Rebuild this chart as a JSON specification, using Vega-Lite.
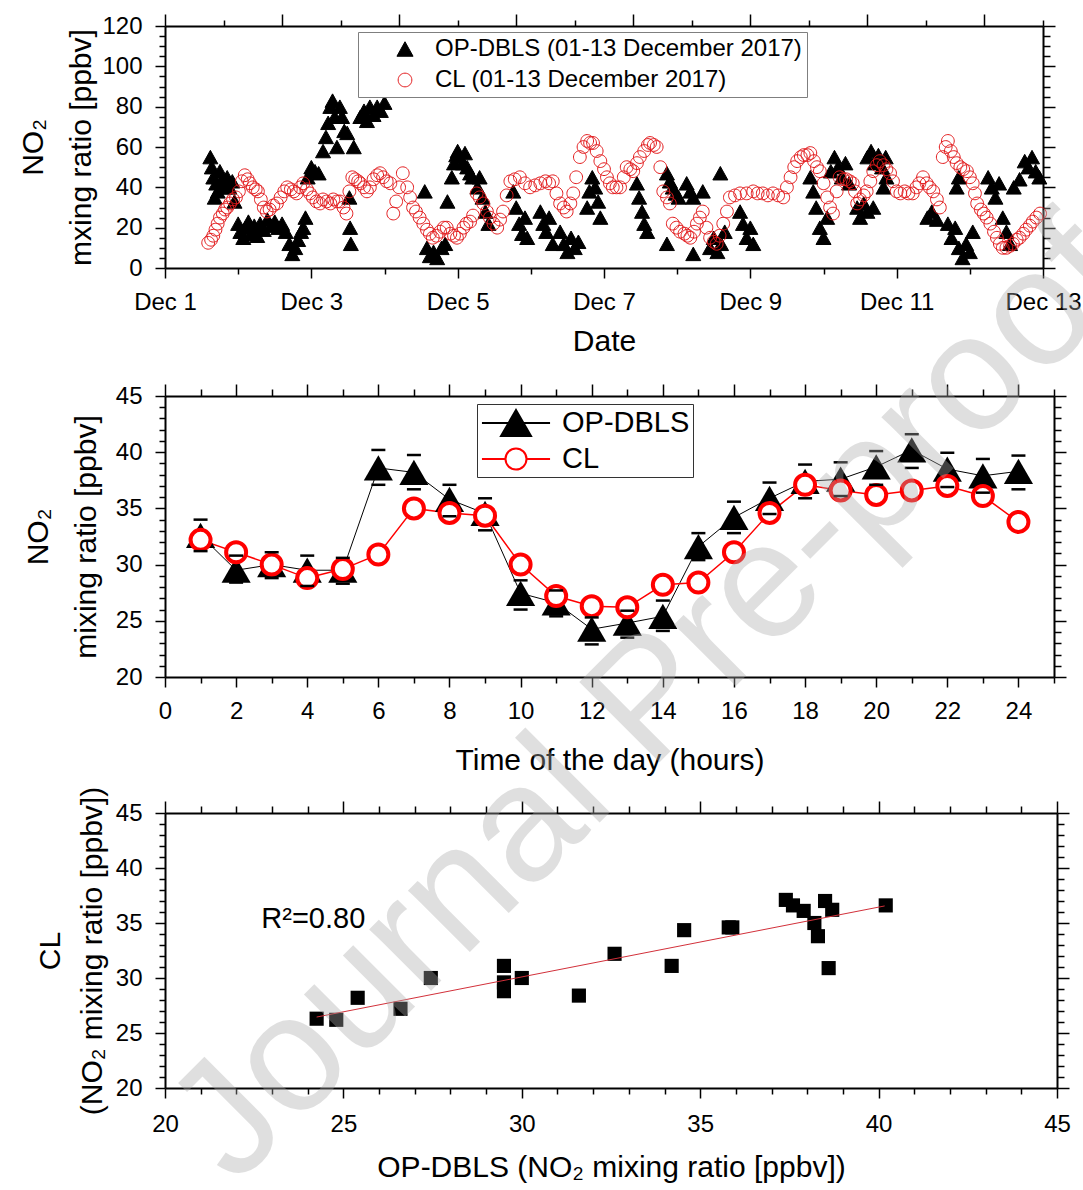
{
  "$schema": "https://vega.github.io/schema/vega-lite/v6.json",
  "padding": {"left": 18, "top": 13, "right": 10, "bottom": 5},
  "config": {
    "font": "Liberation Sans",
    "view": {"stroke": null},
    "axis": {"domainColor": "black", "domainWidth": 2, "tickColor": "black", "tickWidth": 1.5, "labelColor": "black", "labelFontSize": 24, "titleFontSize": 30, "titleFontWeight": "normal", "titleColor": "black", "grid": false, "labelOverlap": false, "labelFlush": false},
    "legend": {"titleFontSize": 0, "labelLimit": 0}
  },
  "datasets": {
    "ts": [
      {"s":"OP","d":1.62,"v":55},{"s":"OP","d":1.64,"v":50},{"s":"OP","d":1.66,"v":45},{"s":"OP","d":1.68,"v":35},{"s":"OP","d":1.70,"v":42},{"s":"OP","d":1.72,"v":38},{"s":"OP","d":1.75,"v":48},{"s":"OP","d":1.78,"v":44},{"s":"OP","d":1.82,"v":40},{"s":"OP","d":1.85,"v":45},{"s":"OP","d":1.88,"v":40},{"s":"OP","d":1.92,"v":43},{"s":"OP","d":1.95,"v":33},
      {"s":"OP","d":2.00,"v":22},{"s":"OP","d":2.03,"v":18},{"s":"OP","d":2.07,"v":15},{"s":"OP","d":2.10,"v":20},{"s":"OP","d":2.14,"v":23},{"s":"OP","d":2.18,"v":17},{"s":"OP","d":2.22,"v":21},{"s":"OP","d":2.26,"v":16},
      {"s":"OP","d":2.30,"v":22},{"s":"OP","d":2.35,"v":19},{"s":"OP","d":2.40,"v":24},{"s":"OP","d":2.45,"v":21},{"s":"OP","d":2.50,"v":23},{"s":"OP","d":2.55,"v":20},{"s":"OP","d":2.60,"v":22},{"s":"OP","d":2.65,"v":18},
      {"s":"OP","d":2.70,"v":12},{"s":"OP","d":2.74,"v":7},{"s":"OP","d":2.78,"v":10},{"s":"OP","d":2.82,"v":14},{"s":"OP","d":2.86,"v":18},{"s":"OP","d":2.89,"v":20},{"s":"OP","d":2.92,"v":25},
      {"s":"OP","d":2.95,"v":45},{"s":"OP","d":3.00,"v":50},{"s":"OP","d":3.05,"v":48},{"s":"OP","d":3.10,"v":47},
      {"s":"OP","d":3.16,"v":58},{"s":"OP","d":3.20,"v":65},{"s":"OP","d":3.23,"v":72},{"s":"OP","d":3.26,"v":80},{"s":"OP","d":3.29,"v":83},{"s":"OP","d":3.32,"v":75},{"s":"OP","d":3.35,"v":60},
      {"s":"OP","d":3.39,"v":80},{"s":"OP","d":3.42,"v":75},{"s":"OP","d":3.45,"v":68},{"s":"OP","d":3.49,"v":67},{"s":"OP","d":3.52,"v":35},{"s":"OP","d":3.53,"v":20},{"s":"OP","d":3.54,"v":12},{"s":"OP","d":3.58,"v":60},
      {"s":"OP","d":3.67,"v":75},{"s":"OP","d":3.72,"v":78},{"s":"OP","d":3.76,"v":73},{"s":"OP","d":3.80,"v":80},{"s":"OP","d":3.85,"v":76},{"s":"OP","d":3.90,"v":80},{"s":"OP","d":3.95,"v":78},{"s":"OP","d":4.00,"v":82},
      {"s":"OP","d":4.55,"v":38},
      {"s":"OP","d":4.58,"v":10},{"s":"OP","d":4.62,"v":6},{"s":"OP","d":4.67,"v":8},{"s":"OP","d":4.72,"v":5},{"s":"OP","d":4.78,"v":10},{"s":"OP","d":4.83,"v":12},{"s":"OP","d":4.86,"v":33},
      {"s":"OP","d":4.92,"v":45},{"s":"OP","d":4.95,"v":52},{"s":"OP","d":4.98,"v":56},{"s":"OP","d":5.00,"v":58},{"s":"OP","d":5.03,"v":55},{"s":"OP","d":5.07,"v":52},{"s":"OP","d":5.10,"v":57},{"s":"OP","d":5.13,"v":50},{"s":"OP","d":5.17,"v":47},{"s":"OP","d":5.20,"v":45},
      {"s":"OP","d":5.27,"v":40},{"s":"OP","d":5.30,"v":45},{"s":"OP","d":5.34,"v":35},{"s":"OP","d":5.38,"v":28},{"s":"OP","d":5.42,"v":22},
      {"s":"OP","d":5.76,"v":38},{"s":"OP","d":5.80,"v":30},{"s":"OP","d":5.84,"v":22},{"s":"OP","d":5.88,"v":17},{"s":"OP","d":5.92,"v":25},{"s":"OP","d":5.95,"v":15},
      {"s":"OP","d":6.13,"v":28},{"s":"OP","d":6.17,"v":22},{"s":"OP","d":6.21,"v":18},{"s":"OP","d":6.25,"v":25},{"s":"OP","d":6.30,"v":12},
      {"s":"OP","d":6.40,"v":18},{"s":"OP","d":6.45,"v":12},{"s":"OP","d":6.50,"v":8},{"s":"OP","d":6.55,"v":15},{"s":"OP","d":6.60,"v":10},{"s":"OP","d":6.65,"v":13},
      {"s":"OP","d":6.77,"v":30},{"s":"OP","d":6.80,"v":38},{"s":"OP","d":6.84,"v":45},{"s":"OP","d":6.88,"v":40},{"s":"OP","d":6.92,"v":33},{"s":"OP","d":6.95,"v":25},
      {"s":"OP","d":7.45,"v":42},{"s":"OP","d":7.48,"v":35},{"s":"OP","d":7.52,"v":28},{"s":"OP","d":7.55,"v":22},{"s":"OP","d":7.59,"v":18},
      {"s":"OP","d":7.86,"v":47},{"s":"OP","d":7.90,"v":43},{"s":"OP","d":7.94,"v":40},{"s":"OP","d":7.98,"v":37},{"s":"OP","d":8.02,"v":35},{"s":"OP","d":7.86,"v":12},
      {"s":"OP","d":8.13,"v":42},{"s":"OP","d":8.18,"v":38},{"s":"OP","d":8.22,"v":35},{"s":"OP","d":8.22,"v":7},{"s":"OP","d":8.35,"v":38},
      {"s":"OP","d":8.45,"v":10},{"s":"OP","d":8.50,"v":15},{"s":"OP","d":8.55,"v":8},{"s":"OP","d":8.60,"v":12},{"s":"OP","d":8.65,"v":18},{"s":"OP","d":8.59,"v":47},
      {"s":"OP","d":8.86,"v":28},{"s":"OP","d":8.90,"v":22},{"s":"OP","d":8.95,"v":15},{"s":"OP","d":9.00,"v":20},{"s":"OP","d":9.04,"v":12},
      {"s":"OP","d":9.82,"v":45},{"s":"OP","d":9.86,"v":38},{"s":"OP","d":9.90,"v":30},{"s":"OP","d":9.95,"v":20},{"s":"OP","d":10.00,"v":15},{"s":"OP","d":10.05,"v":25},
      {"s":"OP","d":10.10,"v":48},{"s":"OP","d":10.15,"v":55},{"s":"OP","d":10.20,"v":50},{"s":"OP","d":10.25,"v":45},{"s":"OP","d":10.30,"v":52},{"s":"OP","d":10.35,"v":42},
      {"s":"OP","d":10.46,"v":30},{"s":"OP","d":10.50,"v":25},{"s":"OP","d":10.55,"v":32},{"s":"OP","d":10.60,"v":28},{"s":"OP","d":10.68,"v":30},
      {"s":"OP","d":10.60,"v":55},{"s":"OP","d":10.65,"v":58},{"s":"OP","d":10.70,"v":52},{"s":"OP","d":10.75,"v":56},{"s":"OP","d":10.80,"v":50},{"s":"OP","d":10.85,"v":55},{"s":"OP","d":10.82,"v":40},{"s":"OP","d":10.86,"v":45},
      {"s":"OP","d":11.42,"v":25},{"s":"OP","d":11.48,"v":28},{"s":"OP","d":11.55,"v":24},
      {"s":"OP","d":11.70,"v":22},{"s":"OP","d":11.75,"v":15},{"s":"OP","d":11.80,"v":20},{"s":"OP","d":11.85,"v":10},{"s":"OP","d":11.90,"v":5},{"s":"OP","d":11.95,"v":12},{"s":"OP","d":12.00,"v":8},{"s":"OP","d":12.04,"v":18},{"s":"OP","d":11.82,"v":40},{"s":"OP","d":11.85,"v":45},
      {"s":"OP","d":12.25,"v":45},{"s":"OP","d":12.30,"v":40},{"s":"OP","d":12.35,"v":35},{"s":"OP","d":12.40,"v":42},
      {"s":"OP","d":12.45,"v":25},{"s":"OP","d":12.50,"v":18},{"s":"OP","d":12.55,"v":12},{"s":"OP","d":12.60,"v":40},{"s":"OP","d":12.68,"v":44},
      {"s":"OP","d":12.75,"v":53},{"s":"OP","d":12.80,"v":50},{"s":"OP","d":12.85,"v":55},{"s":"OP","d":12.90,"v":48},{"s":"OP","d":12.95,"v":45},
      {"s":"CL","d":1.59,"v":12.5},{"s":"CL","d":1.63,"v":14},{"s":"CL","d":1.66,"v":16},{"s":"CL","d":1.69,"v":19},{"s":"CL","d":1.72,"v":22},{"s":"CL","d":1.75,"v":25},{"s":"CL","d":1.79,"v":27},{"s":"CL","d":1.82,"v":29},{"s":"CL","d":1.85,"v":30},{"s":"CL","d":1.89,"v":32},{"s":"CL","d":1.93,"v":34},{"s":"CL","d":1.97,"v":35},
      {"s":"CL","d":2.01,"v":38},{"s":"CL","d":2.05,"v":43},{"s":"CL","d":2.09,"v":46},{"s":"CL","d":2.13,"v":44},{"s":"CL","d":2.16,"v":42},{"s":"CL","d":2.20,"v":40},{"s":"CL","d":2.24,"v":39},{"s":"CL","d":2.27,"v":38},{"s":"CL","d":2.31,"v":34},{"s":"CL","d":2.35,"v":30},{"s":"CL","d":2.39,"v":28},{"s":"CL","d":2.43,"v":29},{"s":"CL","d":2.48,"v":31},
      {"s":"CL","d":2.53,"v":32},{"s":"CL","d":2.58,"v":35},{"s":"CL","d":2.63,"v":38},{"s":"CL","d":2.67,"v":40},{"s":"CL","d":2.72,"v":39},{"s":"CL","d":2.76,"v":38},{"s":"CL","d":2.80,"v":37},{"s":"CL","d":2.85,"v":40},{"s":"CL","d":2.89,"v":42},{"s":"CL","d":2.94,"v":39},{"s":"CL","d":2.98,"v":37},
      {"s":"CL","d":3.02,"v":35},{"s":"CL","d":3.07,"v":33},{"s":"CL","d":3.12,"v":32},{"s":"CL","d":3.16,"v":34},{"s":"CL","d":3.21,"v":33},{"s":"CL","d":3.26,"v":32},{"s":"CL","d":3.30,"v":34},{"s":"CL","d":3.35,"v":33},{"s":"CL","d":3.39,"v":33},{"s":"CL","d":3.44,"v":30},{"s":"CL","d":3.48,"v":27},
      {"s":"CL","d":3.52,"v":38},{"s":"CL","d":3.56,"v":45},{"s":"CL","d":3.60,"v":44},{"s":"CL","d":3.64,"v":43},{"s":"CL","d":3.67,"v":42},{"s":"CL","d":3.72,"v":40},{"s":"CL","d":3.76,"v":38},{"s":"CL","d":3.80,"v":40},{"s":"CL","d":3.85,"v":44},{"s":"CL","d":3.90,"v":46},{"s":"CL","d":3.94,"v":47},{"s":"CL","d":3.98,"v":45},
      {"s":"CL","d":4.03,"v":43},{"s":"CL","d":4.08,"v":42},{"s":"CL","d":4.12,"v":27},{"s":"CL","d":4.16,"v":33},{"s":"CL","d":4.20,"v":40},{"s":"CL","d":4.25,"v":47},{"s":"CL","d":4.31,"v":40},{"s":"CL","d":4.35,"v":35},{"s":"CL","d":4.39,"v":30},{"s":"CL","d":4.43,"v":28},{"s":"CL","d":4.48,"v":25},
      {"s":"CL","d":4.53,"v":22},{"s":"CL","d":4.58,"v":19},{"s":"CL","d":4.62,"v":17},{"s":"CL","d":4.66,"v":15},{"s":"CL","d":4.71,"v":16},{"s":"CL","d":4.76,"v":18},{"s":"CL","d":4.81,"v":20},{"s":"CL","d":4.85,"v":20},{"s":"CL","d":4.90,"v":17},{"s":"CL","d":4.95,"v":16},{"s":"CL","d":4.99,"v":15},
      {"s":"CL","d":5.03,"v":17},{"s":"CL","d":5.08,"v":20},{"s":"CL","d":5.12,"v":22},{"s":"CL","d":5.17,"v":23},{"s":"CL","d":5.21,"v":26},{"s":"CL","d":5.26,"v":37},{"s":"CL","d":5.30,"v":35},{"s":"CL","d":5.35,"v":32},{"s":"CL","d":5.40,"v":28},{"s":"CL","d":5.44,"v":25},{"s":"CL","d":5.49,"v":22},
      {"s":"CL","d":5.54,"v":20},{"s":"CL","d":5.58,"v":24},{"s":"CL","d":5.62,"v":28},{"s":"CL","d":5.67,"v":36},{"s":"CL","d":5.72,"v":43},{"s":"CL","d":5.78,"v":44},{"s":"CL","d":5.85,"v":45},{"s":"CL","d":5.92,"v":42},{"s":"CL","d":5.99,"v":40},{"s":"CL","d":6.06,"v":41},{"s":"CL","d":6.13,"v":42},
      {"s":"CL","d":6.20,"v":43},{"s":"CL","d":6.25,"v":42},{"s":"CL","d":6.30,"v":43},{"s":"CL","d":6.35,"v":37},{"s":"CL","d":6.40,"v":32},{"s":"CL","d":6.45,"v":30},{"s":"CL","d":6.49,"v":28},{"s":"CL","d":6.54,"v":32},{"s":"CL","d":6.58,"v":37},{"s":"CL","d":6.62,"v":45},{"s":"CL","d":6.67,"v":55},
      {"s":"CL","d":6.72,"v":60},{"s":"CL","d":6.77,"v":63},{"s":"CL","d":6.81,"v":62},{"s":"CL","d":6.85,"v":62},{"s":"CL","d":6.90,"v":58},{"s":"CL","d":6.95,"v":53},{"s":"CL","d":7.00,"v":49},{"s":"CL","d":7.04,"v":45},{"s":"CL","d":7.08,"v":42},{"s":"CL","d":7.12,"v":40},{"s":"CL","d":7.17,"v":40},
      {"s":"CL","d":7.22,"v":40},{"s":"CL","d":7.27,"v":45},{"s":"CL","d":7.31,"v":50},{"s":"CL","d":7.36,"v":49},{"s":"CL","d":7.40,"v":48},{"s":"CL","d":7.45,"v":52},{"s":"CL","d":7.49,"v":55},{"s":"CL","d":7.55,"v":58},{"s":"CL","d":7.60,"v":61},{"s":"CL","d":7.63,"v":62},{"s":"CL","d":7.68,"v":61},
      {"s":"CL","d":7.72,"v":60},{"s":"CL","d":7.77,"v":50},{"s":"CL","d":7.81,"v":38},{"s":"CL","d":7.86,"v":35},{"s":"CL","d":7.90,"v":32},{"s":"CL","d":7.94,"v":22},{"s":"CL","d":7.99,"v":20},{"s":"CL","d":8.04,"v":18},{"s":"CL","d":8.10,"v":17},{"s":"CL","d":8.14,"v":16},{"s":"CL","d":8.18,"v":15},
      {"s":"CL","d":8.23,"v":18},{"s":"CL","d":8.27,"v":22},{"s":"CL","d":8.31,"v":25},{"s":"CL","d":8.35,"v":28},{"s":"CL","d":8.40,"v":20},{"s":"CL","d":8.45,"v":15},{"s":"CL","d":8.50,"v":13},{"s":"CL","d":8.54,"v":12},{"s":"CL","d":8.58,"v":16},{"s":"CL","d":8.63,"v":22},{"s":"CL","d":8.68,"v":28},
      {"s":"CL","d":8.72,"v":35},{"s":"CL","d":8.79,"v":36},{"s":"CL","d":8.86,"v":37},{"s":"CL","d":8.95,"v":37},{"s":"CL","d":9.04,"v":38},{"s":"CL","d":9.10,"v":37},{"s":"CL","d":9.17,"v":37},{"s":"CL","d":9.24,"v":36},{"s":"CL","d":9.31,"v":37},{"s":"CL","d":9.38,"v":36},{"s":"CL","d":9.45,"v":35},
      {"s":"CL","d":9.50,"v":40},{"s":"CL","d":9.55,"v":45},{"s":"CL","d":9.60,"v":50},{"s":"CL","d":9.64,"v":53},{"s":"CL","d":9.69,"v":55},{"s":"CL","d":9.73,"v":56},{"s":"CL","d":9.78,"v":56},{"s":"CL","d":9.82,"v":57},{"s":"CL","d":9.87,"v":53},{"s":"CL","d":9.91,"v":50},{"s":"CL","d":9.95,"v":48},
      {"s":"CL","d":10.00,"v":42},{"s":"CL","d":10.05,"v":35},{"s":"CL","d":10.09,"v":30},{"s":"CL","d":10.13,"v":27},{"s":"CL","d":10.18,"v":38},{"s":"CL","d":10.22,"v":45},{"s":"CL","d":10.27,"v":44},{"s":"CL","d":10.31,"v":44},{"s":"CL","d":10.36,"v":43},{"s":"CL","d":10.40,"v":42},{"s":"CL","d":10.43,"v":38},
      {"s":"CL","d":10.46,"v":32},{"s":"CL","d":10.50,"v":34},{"s":"CL","d":10.55,"v":36},{"s":"CL","d":10.59,"v":38},{"s":"CL","d":10.64,"v":43},{"s":"CL","d":10.68,"v":48},{"s":"CL","d":10.73,"v":51},{"s":"CL","d":10.77,"v":53},{"s":"CL","d":10.82,"v":51},{"s":"CL","d":10.86,"v":49},{"s":"CL","d":10.91,"v":47},
      {"s":"CL","d":10.95,"v":43},{"s":"CL","d":11.00,"v":38},{"s":"CL","d":11.05,"v":37},{"s":"CL","d":11.11,"v":38},{"s":"CL","d":11.16,"v":37},{"s":"CL","d":11.22,"v":37},{"s":"CL","d":11.27,"v":40},{"s":"CL","d":11.31,"v":42},{"s":"CL","d":11.36,"v":45},{"s":"CL","d":11.41,"v":42},{"s":"CL","d":11.45,"v":40},
      {"s":"CL","d":11.50,"v":38},{"s":"CL","d":11.55,"v":34},{"s":"CL","d":11.59,"v":30},{"s":"CL","d":11.63,"v":55},{"s":"CL","d":11.67,"v":60},{"s":"CL","d":11.70,"v":63},{"s":"CL","d":11.74,"v":58},{"s":"CL","d":11.78,"v":55},{"s":"CL","d":11.82,"v":52},{"s":"CL","d":11.87,"v":50},{"s":"CL","d":11.91,"v":49},
      {"s":"CL","d":11.96,"v":48},{"s":"CL","d":12.00,"v":45},{"s":"CL","d":12.04,"v":42},{"s":"CL","d":12.07,"v":37},{"s":"CL","d":12.10,"v":32},{"s":"CL","d":12.15,"v":29},{"s":"CL","d":12.19,"v":27},{"s":"CL","d":12.23,"v":25},{"s":"CL","d":12.28,"v":22},{"s":"CL","d":12.33,"v":18},{"s":"CL","d":12.37,"v":15},
      {"s":"CL","d":12.41,"v":12},{"s":"CL","d":12.45,"v":10},{"s":"CL","d":12.50,"v":10},{"s":"CL","d":12.55,"v":11},{"s":"CL","d":12.59,"v":12},{"s":"CL","d":12.64,"v":14},{"s":"CL","d":12.68,"v":15},{"s":"CL","d":12.73,"v":17},{"s":"CL","d":12.77,"v":19},{"s":"CL","d":12.82,"v":21},{"s":"CL","d":12.86,"v":23},{"s":"CL","d":12.91,"v":25},{"s":"CL","d":12.96,"v":27}
    ],
    "hr": [
      {"h":1,"op":32.6,"cl":32.2,"lo":31.2,"hi":34.0},
      {"h":2,"op":29.5,"cl":31.1,"lo":28.4,"hi":30.8},
      {"h":3,"op":30.0,"cl":30.0,"lo":28.8,"hi":31.1},
      {"h":4,"op":29.5,"cl":28.8,"lo":28.1,"hi":30.8},
      {"h":5,"op":29.5,"cl":29.6,"lo":28.3,"hi":30.6},
      {"h":6,"op":38.6,"cl":30.9,"lo":37.1,"hi":40.2},
      {"h":7,"op":38.2,"cl":35.0,"lo":36.7,"hi":39.75},
      {"h":8,"op":35.8,"cl":34.6,"lo":34.3,"hi":37.1},
      {"h":9,"op":34.55,"cl":34.35,"lo":33.05,"hi":35.9},
      {"h":10,"op":27.45,"cl":30.0,"lo":26.0,"hi":28.6},
      {"h":11,"op":26.6,"cl":27.2,"lo":25.4,"hi":27.7},
      {"h":12,"op":24.25,"cl":26.3,"lo":22.9,"hi":25.3},
      {"h":13,"op":24.8,"cl":26.2,"lo":23.5,"hi":25.9},
      {"h":14,"op":25.4,"cl":28.2,"lo":24.1,"hi":26.8},
      {"h":15,"op":31.6,"cl":28.4,"lo":30.4,"hi":32.8},
      {"h":16,"op":34.2,"cl":31.1,"lo":32.8,"hi":35.6},
      {"h":17,"op":35.9,"cl":34.6,"lo":34.5,"hi":37.3},
      {"h":18,"op":37.4,"cl":37.1,"lo":35.9,"hi":38.9},
      {"h":19,"op":37.6,"cl":36.6,"lo":36.1,"hi":39.1},
      {"h":20,"op":38.7,"cl":36.2,"lo":37.1,"hi":40.1},
      {"h":21,"op":40.2,"cl":36.6,"lo":38.6,"hi":41.6},
      {"h":22,"op":38.5,"cl":37.0,"lo":36.9,"hi":39.95},
      {"h":23,"op":37.9,"cl":36.1,"lo":36.4,"hi":39.4},
      {"h":24,"op":38.3,"cl":33.8,"lo":36.7,"hi":39.7}
    ]
  },
  "vconcat": [
    {
      "width": 878,
      "height": 242,
      "layer": [
        {
          "data": {"name": "ts"},
          "mark": {"type": "point", "size": 225, "strokeWidth": 1, "opacity": 1},
          "encoding": {
            "x": {"field": "d", "type": "quantitative", "scale": {"domain": [1, 13], "nice": false, "zero": false},
              "axis": {"orient": "bottom", "values": [1,2,3,4,5,6,7,8,9,10,11,12,13], "labelExpr": "datum.value % 2 == 1 ? 'Dec ' + datum.value : ''", "tickSize": {"condition": {"test": "datum.value % 2 == 1", "value": 10}, "value": 6}, "labelPadding": 12, "title": "Date", "titlePadding": 12}},
            "y": {"field": "v", "type": "quantitative", "scale": {"domain": [0, 120], "nice": false, "zero": false},
              "axis": {"orient": "left", "values": [0,5,10,15,20,25,30,35,40,45,50,55,60,65,70,75,80,85,90,95,100,105,110,115,120], "labelExpr": "datum.value % 20 == 0 ? datum.label : ''", "tickSize": {"condition": {"test": "datum.value % 20 == 0", "value": 10}, "value": 6}, "labelPadding": 13, "title": ["NO₂", "mxing ratio [ppbv]"], "titleLineHeight": 48, "titlePadding": 5}},
            "shape": {"field": "s", "type": "nominal", "scale": {"domain": ["OP", "CL"], "range": ["M0,-0.9L1,0.9L-1,0.9Z", "M-0.85,0A0.85,0.85 0 1,0 0.85,0A0.85,0.85 0 1,0 -0.85,0Z"]},
              "legend": {"orient": "none", "legendX": 193, "legendY": 6, "title": null, "labelExpr": "datum.value == 'OP' ? 'OP-DBLS (01-13 December 2017)' : 'CL (01-13 December 2017)'", "labelFontSize": 24, "labelColor": "black", "labelLimit": 0, "symbolSize": 260, "symbolStrokeWidth": 1, "strokeColor": "#7f7f7f", "fillColor": "white", "padding": 5, "rowPadding": 7, "symbolOffset": 30, "labelOffset": 18}},
            "stroke": {"field": "s", "type": "nominal", "scale": {"domain": ["OP", "CL"], "range": ["black", "#e31a1c"]},
              "legend": {"orient": "none", "legendX": 193, "legendY": 6, "title": null, "labelExpr": "datum.value == 'OP' ? 'OP-DBLS (01-13 December 2017)' : 'CL (01-13 December 2017)'", "labelFontSize": 24, "labelColor": "black", "labelLimit": 0, "symbolSize": 260, "symbolStrokeWidth": 1, "strokeColor": "#7f7f7f", "fillColor": "white", "padding": 5, "rowPadding": 7, "symbolOffset": 30, "labelOffset": 18}},
            "fill": {"field": "s", "type": "nominal", "scale": {"domain": ["OP", "CL"], "range": ["black", "transparent"]},
              "legend": {"orient": "none", "legendX": 193, "legendY": 6, "title": null, "labelExpr": "datum.value == 'OP' ? 'OP-DBLS (01-13 December 2017)' : 'CL (01-13 December 2017)'", "labelFontSize": 24, "labelColor": "black", "labelLimit": 0, "symbolSize": 260, "symbolStrokeWidth": 1, "strokeColor": "#7f7f7f", "fillColor": "white", "padding": 5, "rowPadding": 7, "symbolOffset": 30, "labelOffset": 18}}
          }
        },
        {
          "data": {"name": "ts"},
          "mark": {"type": "point", "opacity": 0},
          "encoding": {
            "x": {"field": "d", "type": "quantitative", "scale": {"domain": [1, 13], "nice": false, "zero": false},
              "axis": {"orient": "top", "values": [1,1.8,2.6,3.4,4.2,5,5.8,6.6,7.4,8.2,9,9.8,10.6,11.4,12.2,13], "labels": false, "title": null, "tickSize": {"condition": {"test": "indexof([1,2.6,4.2,5.8,7.4,9,10.6,12.2], datum.value) >= 0", "value": 12}, "value": 6}}},
            "y": {"field": "v", "type": "quantitative", "scale": {"domain": [0, 120], "nice": false, "zero": false},
              "axis": {"orient": "right", "values": [0,5,10,15,20,25,30,35,40,45,50,55,60,65,70,75,80,85,90,95,100,105,110,115,120], "labels": false, "title": null, "tickSize": {"condition": {"test": "datum.value % 20 == 0", "value": 12}, "value": 7}}}
          }
        }
      ],
      "resolve": {"axis": {"x": "independent", "y": "independent"}}
    },
    {
      "bounds": "flush",
      "spacing": 136,
      "vconcat": [
        {
          "width": 889,
          "height": 281,
          "layer": [
            {
              "data": {"name": "hr"},
              "mark": {"type": "line", "color": "black", "strokeWidth": 1},
              "encoding": {
                "x": {"field": "h", "type": "quantitative", "scale": {"domain": [0, 25], "nice": false, "zero": false},
                  "axis": {"orient": "bottom", "values": [0,1,2,3,4,5,6,7,8,9,10,11,12,13,14,15,16,17,18,19,20,21,22,23,24,25], "labelExpr": "datum.value % 2 == 0 && datum.value < 25 ? datum.label : ''", "tickSize": {"condition": {"test": "datum.value % 2 == 0", "value": 10}, "value": 6}, "labelPadding": 12, "title": "Time of the day (hours)", "titlePadding": 22}},
                "y": {"field": "op", "type": "quantitative", "scale": {"domain": [20, 45], "nice": false, "zero": false},
                  "axis": {"orient": "left", "values": [20,21,22,23,24,25,26,27,28,29,30,31,32,33,34,35,36,37,38,39,40,41,42,43,44,45], "labelExpr": "datum.value % 5 == 0 ? datum.label : ''", "tickSize": {"condition": {"test": "datum.value % 5 == 0", "value": 10}, "value": 6}, "labelPadding": 13, "title": ["NO₂", "mixing ratio [ppbv]"], "titleLineHeight": 48, "titlePadding": 14}}
              }
            },
            {
              "data": {"name": "hr"},
              "mark": {"type": "line", "color": "#ff0000", "strokeWidth": 1.5},
              "encoding": {
                "x": {"field": "h", "type": "quantitative", "scale": {"domain": [0, 25], "nice": false, "zero": false},
                  "axis": {"orient": "top", "values": [0,1,2,3,4,5,6,7,8,9,10,11,12,13,14,15,16,17,18,19,20,21,22,23,24,25], "labels": false, "title": null, "tickSize": {"condition": {"test": "datum.value % 2 == 0", "value": 12}, "value": 7}}},
                "y": {"field": "cl", "type": "quantitative", "scale": {"domain": [20, 45], "nice": false, "zero": false},
                  "axis": {"orient": "right", "values": [20,21,22,23,24,25,26,27,28,29,30,31,32,33,34,35,36,37,38,39,40,41,42,43,44,45], "labels": false, "title": null, "tickSize": {"condition": {"test": "datum.value % 5 == 0", "value": 12}, "value": 7}}}
              }
            },
            {
              "data": {"name": "hr"},
              "mark": {"type": "point", "shape": "triangle-up", "filled": true, "color": "black", "size": 850, "opacity": 1},
              "encoding": {
                "x": {"field": "h", "type": "quantitative", "scale": {"domain": [0, 25], "nice": false, "zero": false}, "axis": null},
                "y": {"field": "op", "type": "quantitative", "scale": {"domain": [20, 45], "nice": false, "zero": false}, "axis": null}
              }
            },
            {
              "data": {"name": "hr"},
              "mark": {"type": "point", "shape": "circle", "filled": false, "stroke": "#ff0000", "fill": "white", "fillOpacity": 1, "strokeWidth": 4, "size": 400, "opacity": 1},
              "encoding": {
                "x": {"field": "h", "type": "quantitative", "scale": {"domain": [0, 25], "nice": false, "zero": false}, "axis": null},
                "y": {"field": "cl", "type": "quantitative", "scale": {"domain": [20, 45], "nice": false, "zero": false}, "axis": null}
              }
            },
            {
              "data": {"name": "hr"},
              "mark": {"type": "tick", "orient": "horizontal", "color": "black", "size": 14, "thickness": 2.5, "opacity": 1},
              "encoding": {
                "x": {"field": "h", "type": "quantitative", "scale": {"domain": [0, 25], "nice": false, "zero": false}, "axis": null},
                "y": {"field": "hi", "type": "quantitative", "scale": {"domain": [20, 45], "nice": false, "zero": false}, "axis": null}
              }
            },
            {
              "data": {"name": "hr"},
              "mark": {"type": "tick", "orient": "horizontal", "color": "black", "size": 14, "thickness": 2.5, "opacity": 1},
              "encoding": {
                "x": {"field": "h", "type": "quantitative", "scale": {"domain": [0, 25], "nice": false, "zero": false}, "axis": null},
                "y": {"field": "lo", "type": "quantitative", "scale": {"domain": [20, 45], "nice": false, "zero": false}, "axis": null}
              }
            },
            {
              "data": {"values": []},
              "mark": {"type": "point", "opacity": 1},
              "encoding": {
                "shape": {"field": "m", "type": "nominal", "scale": {"domain": ["OP-DBLS", "CL"], "range": ["M-2.27,0H2.27M0,-0.866L1,0.866L-1,0.866Z", "M-2.27,0H-0.7M0.7,0H2.27M-0.7,0A0.7,0.7 0 1,0 0.7,0A0.7,0.7 0 1,0 -0.7,0Z"]},
                  "legend": {"orient": "none", "legendX": 312, "legendY": 8, "title": null, "labelFontSize": 29, "labelColor": "black", "symbolSize": 900, "symbolStrokeWidth": 2, "strokeColor": "#333333", "fillColor": "white", "padding": 3, "rowPadding": 3, "symbolOffset": 20, "labelOffset": 30}},
                "stroke": {"field": "m", "type": "nominal", "scale": {"domain": ["OP-DBLS", "CL"], "range": ["black", "#ff0000"]},
                  "legend": {"orient": "none", "legendX": 312, "legendY": 8, "title": null, "labelFontSize": 29, "labelColor": "black", "symbolSize": 900, "symbolStrokeWidth": 2, "strokeColor": "#333333", "fillColor": "white", "padding": 3, "rowPadding": 3, "symbolOffset": 20, "labelOffset": 30}},
                "fill": {"field": "m", "type": "nominal", "scale": {"domain": ["OP-DBLS", "CL"], "range": ["black", "white"]},
                  "legend": {"orient": "none", "legendX": 312, "legendY": 8, "title": null, "labelFontSize": 29, "labelColor": "black", "symbolSize": 900, "symbolStrokeWidth": 2, "strokeColor": "#333333", "fillColor": "white", "padding": 3, "rowPadding": 3, "symbolOffset": 20, "labelOffset": 30}}
              }
            }
          ],
          "resolve": {"axis": {"x": "independent", "y": "independent"}}
        },
        {
          "width": 892,
          "height": 275,
          "layer": [
            {
              "data": {"name": "hr"},
              "mark": {"type": "point", "shape": "square", "filled": true, "color": "black", "size": 200, "opacity": 1},
              "encoding": {
                "x": {"field": "op", "type": "quantitative", "scale": {"domain": [20, 45], "nice": false, "zero": false},
                  "axis": {"orient": "bottom", "values": [20,21,22,23,24,25,26,27,28,29,30,31,32,33,34,35,36,37,38,39,40,41,42,43,44,45], "labelExpr": "datum.value % 5 == 0 ? datum.label : ''", "tickSize": {"condition": {"test": "datum.value % 5 == 0", "value": 10}, "value": 6}, "labelPadding": 14, "title": "OP-DBLS (NO₂ mixing ratio [ppbv])", "titlePadding": 16}},
                "y": {"field": "cl", "type": "quantitative", "scale": {"domain": [20, 45], "nice": false, "zero": false},
                  "axis": {"orient": "left", "values": [20,21,22,23,24,25,26,27,28,29,30,31,32,33,34,35,36,37,38,39,40,41,42,43,44,45], "labelExpr": "datum.value % 5 == 0 ? datum.label : ''", "tickSize": {"condition": {"test": "datum.value % 5 == 0", "value": 10}, "value": 6}, "labelPadding": 13, "title": ["CL", "(NO₂ mixing ratio [ppbv])"], "titleLineHeight": 42, "titlePadding": 8}}
              }
            },
            {
              "data": {"name": "hr"},
              "mark": {"type": "point", "opacity": 0},
              "encoding": {
                "x": {"field": "op", "type": "quantitative", "scale": {"domain": [20, 45], "nice": false, "zero": false},
                  "axis": {"orient": "top", "values": [20,21,22,23,24,25,26,27,28,29,30,31,32,33,34,35,36,37,38,39,40,41,42,43,44,45], "labels": false, "title": null, "tickSize": {"condition": {"test": "datum.value % 5 == 0", "value": 12}, "value": 7}}},
                "y": {"field": "cl", "type": "quantitative", "scale": {"domain": [20, 45], "nice": false, "zero": false},
                  "axis": {"orient": "right", "values": [20,21,22,23,24,25,26,27,28,29,30,31,32,33,34,35,36,37,38,39,40,41,42,43,44,45], "labels": false, "title": null, "tickSize": {"condition": {"test": "datum.value % 5 == 0", "value": 12}, "value": 7}}}
              }
            },
            {
              "data": {"values": [{"x": 24.25, "y": 26.45}, {"x": 40.17, "y": 36.55}]},
              "mark": {"type": "line", "color": "#d2303a", "strokeWidth": 1},
              "encoding": {
                "x": {"field": "x", "type": "quantitative", "scale": {"domain": [20, 45], "nice": false, "zero": false}, "axis": null},
                "y": {"field": "y", "type": "quantitative", "scale": {"domain": [20, 45], "nice": false, "zero": false}, "axis": null}
              }
            },
            {
              "data": {"values": [{"x": 22.7, "y": 35.4, "t": "R²=0.80"}]},
              "mark": {"type": "text", "align": "left", "baseline": "middle", "fontSize": 29, "color": "black"},
              "encoding": {
                "x": {"field": "x", "type": "quantitative", "scale": {"domain": [20, 45], "nice": false, "zero": false}, "axis": null},
                "y": {"field": "y", "type": "quantitative", "scale": {"domain": [20, 45], "nice": false, "zero": false}, "axis": null},
                "text": {"field": "t", "type": "nominal"}
              }
            },
            {
              "data": {"values": [{"x": 33.6, "y": 55.2, "t": "Journal Pre-proof"}]},
              "mark": {"type": "text", "align": "center", "baseline": "middle", "fontSize": 165, "angle": 315, "color": "#ababab", "opacity": 0.37},
              "encoding": {
                "x": {"field": "x", "type": "quantitative", "scale": {"domain": [20, 45], "nice": false, "zero": false}, "axis": null},
                "y": {"field": "y", "type": "quantitative", "scale": {"domain": [20, 45], "nice": false, "zero": false}, "axis": null},
                "text": {"field": "t", "type": "nominal"}
              }
            }
          ],
          "resolve": {"axis": {"x": "independent", "y": "independent"}}
        }
      ],
      "resolve": {"scale": {"x": "independent", "y": "independent", "shape": "independent", "stroke": "independent", "fill": "independent"}}
    }
  ],
  "bounds": "flush",
  "spacing": 128,
  "resolve": {"scale": {"x": "independent", "y": "independent", "shape": "independent", "stroke": "independent", "fill": "independent"}}
}
